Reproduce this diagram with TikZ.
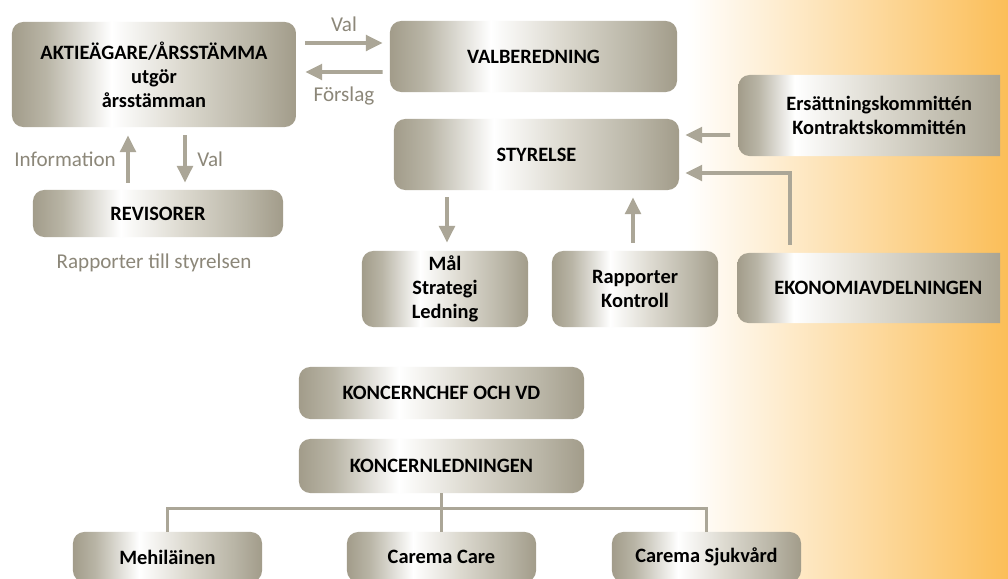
\documentclass[tikz,border=0pt]{standalone}
\usepackage{fontspec}
\setmainfont{Carlito}
\usetikzlibrary{calc,arrows.meta,shadings}
\definecolor{GTaupe}{HTML}{A29C8A}
\definecolor{GPebble}{HTML}{B9B5A6}
\definecolor{GMist}{HTML}{DCD9CF}
\definecolor{GArrow}{HTML}{ABA697}
\definecolor{GNote}{HTML}{8C8779}
\definecolor{OAmber}{HTML}{FBBE58}
% TikZ fits the 25bp--75bp band of a shading to the path
\pgfdeclarehorizontalshading{metal}{100bp}{color(0bp)=(GTaupe); color(25bp)=(GTaupe); color(31bp)=(GPebble); color(42.5bp)=(white); color(55bp)=(GMist); color(67.5bp)=(GPebble); color(75bp)=(GTaupe); color(100bp)=(GTaupe)}
\pgfdeclarehorizontalshading{metalwide}{100bp}{color(0bp)=(GTaupe); color(25bp)=(GTaupe); color(28.5bp)=(GPebble); color(35bp)=(white); color(50bp)=(GMist); color(65bp)=(GPebble); color(75bp)=(GTaupe); color(100bp)=(GTaupe)}
\tikzset{
    block/.style = {rectangle, rounded corners=8pt, shade, shading=metal,
        font=\fontsize{14.5}{17}\selectfont\bfseries,
        align=center, inner sep=0pt},
    wideblock/.style = {block, shading=metalwide, anchor=west,
        text width=7.05cm},
    arrow/.style = {draw=GArrow, line width=2.8pt,
        -{Triangle[length=12pt,width=11pt]}},
    tree/.style = {draw=GArrow, line width=2pt},
    note/.style = {text=GNote, font=\fontsize{15}{18}\selectfont}
}

\begin{document}
\begin{tikzpicture}[x=0.025cm,y=-0.025cm]
        \useasboundingbox (0,0) rectangle (1008,579);
        \clip (0,0) rectangle (1008,579);
        \fill[white] (0,0) rectangle (1008,579);
        \shade[left color=white,right color=OAmber] (687,0) rectangle (1008,579);
        % owners and auditors
        \node[block,minimum width=7.1cm,minimum height=2.625cm] (aktie) at (154,74.5) {AKTIEÄGARE/ÅRSSTÄMMA\\utgör\\årsstämman};
        \node[block,minimum width=6.25cm,minimum height=1.175cm] (revis) at (158,213.5) {REVISORER};
        \node[note] (rappnote) at (154,263) {Rapporter till styrelsen};
        % board
        \node[block,minimum width=7.175cm,minimum height=1.775cm] (valb) at (533.5,56.5) {VALBEREDNING};
        \node[block,minimum width=7.125cm,minimum height=1.775cm] (styr) at (536.5,154.5) {STYRELSE};
        \node[block,minimum width=4.15cm,minimum height=1.9cm] (mal) at (445,289) {Mål\\Strategi\\Ledning};
        \node[block,minimum width=4.15cm,minimum height=1.9cm] (rapk) at (635,289) {Rapporter\\Kontroll};
        \begin{scope}
            \clip (0,0) rectangle (1000,579);
            \node[wideblock,minimum height=2.025cm] (ersatt) at (738,115.5) {Ersättningskommittén\\Kontraktskommittén};
            \node[wideblock,minimum height=1.75cm] (ekon) at (737,288) {EKONOMIAVDELNINGEN};
        \end{scope}
        % group
        \node[block,minimum width=7.125cm,minimum height=1.3cm] (kchef) at (441.5,393) {KONCERNCHEF OCH VD};
        \node[block,minimum width=7.125cm,minimum height=1.35cm] (kled) at (441.5,466) {KONCERNLEDNINGEN};
        \node[block,minimum width=4.725cm,minimum height=1.25cm] (mehi) at (167.5,557) {Mehiläinen};
        \node[block,minimum width=4.725cm,minimum height=1.25cm] (care) at (441.5,557) {Carema Care};
        \node[block,minimum width=4.725cm,minimum height=1.25cm] (sjuk) at (706.5,557) {Carema Sjukvård};

        \draw[arrow] ($(aktie.east)+(9,-31.5)$) -- node[note,above=3pt] {Val} ($(valb.west)+(-7,-13.5)$);
        \draw[arrow] ($(valb.west)+(-7,15.5)$) -- node[note,below=6pt] {Förslag} ($(aktie.east)+(9,-2.5)$);
        \draw[arrow] ($(revis.north)+(-30,-7)$) -- node[note,left=4pt] {Information} ($(aktie.south)+(-26,8)$);
        \draw[arrow] ($(aktie.south)+(31,8)$) -- node[note,right=4pt] {Val} ($(revis.north)+(27,-7)$);
        \draw[arrow] ($(mal.north |- styr.south)+(2,7)$) -- ($(mal.north)+(2,-8)$);
        \draw[arrow] ($(rapk.north)+(-2,-8)$) -- ($(rapk.north |- styr.south)+(-2,7)$);
        \draw[arrow] ($(ersatt.west)+(-8,19.5)$) -- ($(styr.east)+(6,-19.5)$);
        \draw[arrow] ($(ekon.north)+(-88,-8)$) |- ($(styr.east)+(6,18.5)$);
        \draw[tree] (kled.south) -- (care.north);
        \draw[tree] (mehi.north) -- ++(0,-23) -| (sjuk.north);
\end{tikzpicture}
\end{document}
